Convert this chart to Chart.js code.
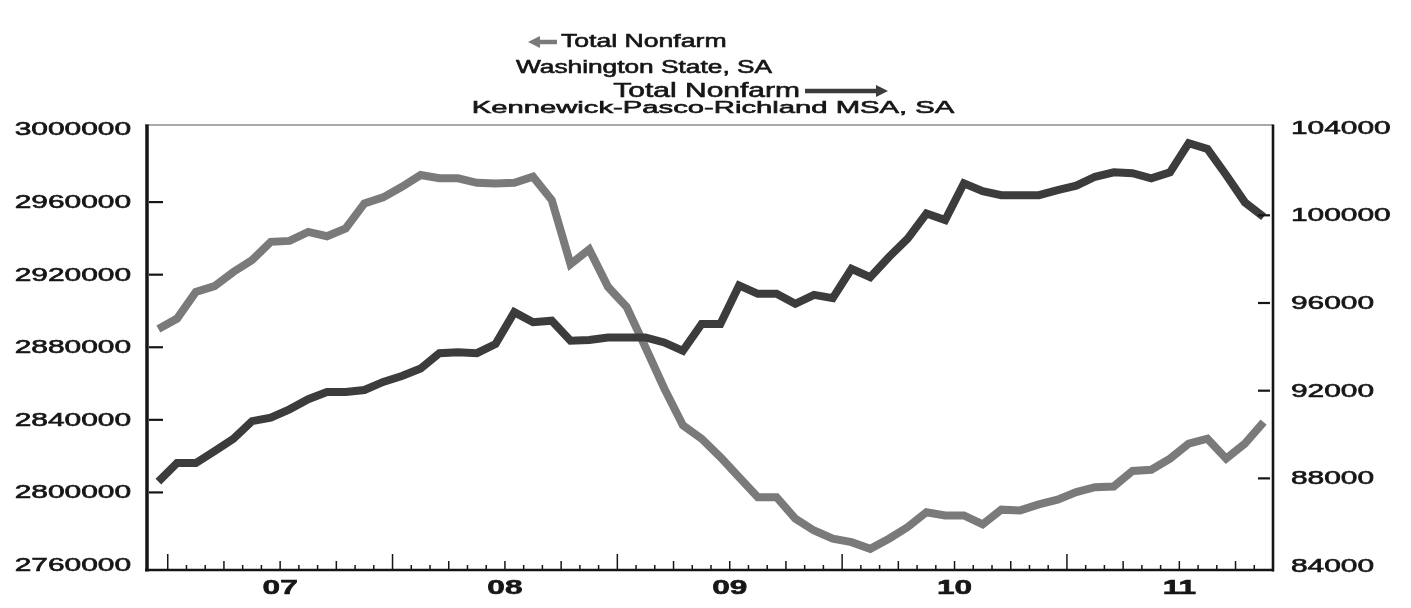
<!DOCTYPE html>
<html lang="en">
<head>
  <meta charset="UTF-8">
  <title>Total Nonfarm: Washington State vs Kennewick-Pasco-Richland MSA</title>
  <script src="https://cdn.jsdelivr.net/npm/chart.js"></script>
  <style>
    html, body {
      margin: 0;
      padding: 0;
      background: #fff;
    }
    #wrap {
      width: 1411px;
      height: 608px;
    }
  </style>
</head>
<body>
  <div id="wrap">
    <canvas id="nonfarmChart" width="1411" height="608"></canvas>
  </div>

  <script>
    // monthly, seasonally adjusted, Dec 2006 - Nov 2011
    const months = [
      "Dec 06",
      "Jan 07", "Feb 07", "Mar 07", "Apr 07", "May 07", "Jun 07", "Jul 07", "Aug 07", "Sep 07", "Oct 07", "Nov 07", "Dec 07",
      "Jan 08", "Feb 08", "Mar 08", "Apr 08", "May 08", "Jun 08", "Jul 08", "Aug 08", "Sep 08", "Oct 08", "Nov 08", "Dec 08",
      "Jan 09", "Feb 09", "Mar 09", "Apr 09", "May 09", "Jun 09", "Jul 09", "Aug 09", "Sep 09", "Oct 09", "Nov 09", "Dec 09",
      "Jan 10", "Feb 10", "Mar 10", "Apr 10", "May 10", "Jun 10", "Jul 10", "Aug 10", "Sep 10", "Oct 10", "Nov 10", "Dec 10",
      "Jan 11", "Feb 11", "Mar 11", "Apr 11", "May 11", "Jun 11", "Jul 11", "Aug 11", "Sep 11", "Oct 11", "Nov 11"
    ];

    // Washington State, left axis
    const waNonfarm = [
      2890000,
      2895800, 2910500, 2913700, 2921500, 2928000, 2938100, 2938600, 2943600, 2941200, 2945500, 2959300, 2962600,
      2968400, 2974900, 2973100, 2973100, 2970600, 2970300, 2970600, 2974000, 2961100, 2925800, 2933900, 2913300,
      2902200, 2880000, 2857400, 2837000, 2829600, 2819500, 2808400, 2797400, 2797400, 2785500, 2779000, 2774500,
      2772600, 2768900, 2774500, 2780900, 2789100, 2787300, 2787300, 2782400, 2790500, 2790100, 2793400, 2796000,
      2800200, 2802900, 2803300, 2811800, 2812500, 2818600, 2826900, 2829600, 2818600, 2826900, 2838800
    ];

    // Kennewick-Pasco-Richland MSA, right axis
    const kprNonfarm = [
      87850,
      88700, 88700, 89240, 89800, 90610, 90770, 91150, 91610, 91940, 91940, 92030, 92400,
      92670, 93010, 93710, 93750, 93710, 94130, 95580, 95120, 95190, 94280, 94310, 94430,
      94430, 94430, 94200, 93820, 95040, 95040, 96800, 96420, 96420, 95960, 96370, 96220,
      97560, 97180, 98100, 98940, 100080, 99780, 101460, 101100, 100920, 100920, 100920, 101150,
      101350, 101760, 101960, 101920, 101690, 101960, 103290, 103030, 101840, 100590, 99930
    ];

    const leftTicks = [2760000, 2800000, 2840000, 2880000, 2920000, 2960000, 3000000];
    const rightTicks = [84000, 88000, 92000, 96000, 100000, 104000];
    const yearLabels = ["07", "08", "09", "10", "11"];

    const WA_COLOR = "#7a7a7a";
    const KPR_COLOR = "#3c3c3c";
    const INK = "#161616";
    const FONT = "'Liberation Sans', Arial, Helvetica, sans-serif";
    // the source scan is squashed vertically, so all lettering comes out wide
    const SX = 1.66;

    function wideText(ctx, text, x, y, align, font, sx) {
      ctx.save();
      ctx.font = font;
      ctx.fillStyle = INK;
      ctx.strokeStyle = INK;
      ctx.lineWidth = 0.6;
      ctx.textAlign = align;
      ctx.textBaseline = "middle";
      ctx.translate(x, y);
      ctx.scale(sx, 1);
      ctx.fillText(text, 0, 0);
      ctx.strokeText(text, 0, 0);
      ctx.restore();
    }

    function arrow(ctx, x1, x2, y, color) {
      const dir = Math.sign(x2 - x1);
      ctx.save();
      ctx.strokeStyle = color;
      ctx.fillStyle = color;
      ctx.lineWidth = 4.5;
      ctx.beginPath();
      ctx.moveTo(x1, y);
      ctx.lineTo(x2 - dir * 8, y);
      ctx.stroke();
      ctx.beginPath();
      ctx.moveTo(x2, y);
      ctx.lineTo(x2 - dir * 12, y - 6);
      ctx.lineTo(x2 - dir * 12, y + 6);
      ctx.closePath();
      ctx.fill();
      ctx.restore();
    }

    function seg(ctx, x1, y1, x2, y2) {
      ctx.beginPath();
      ctx.moveTo(x1, y1);
      ctx.lineTo(x2, y2);
      ctx.stroke();
    }

    const framePlugin = {
      id: "frame",
      afterDatasetsDraw(chart) {
        const ctx = chart.ctx;
        const a = chart.chartArea;
        const x = chart.scales.x;
        const yl = chart.scales.yLeft;
        const yr = chart.scales.yRight;
        const step = x.getPixelForValue(1) - x.getPixelForValue(0);

        ctx.save();
        ctx.lineCap = "butt";

        // box
        ctx.strokeStyle = "#555";
        ctx.lineWidth = 1.2;
        seg(ctx, a.left - 4, a.top, a.right, a.top);
        ctx.strokeStyle = INK;
        ctx.lineWidth = 3.5;
        seg(ctx, a.left - 2, a.top - 0.5, a.left - 2, a.bottom + 1.5);
        ctx.lineWidth = 2.6;
        seg(ctx, a.right, a.top - 0.5, a.right, a.bottom + 1.5);
        seg(ctx, a.left - 4, a.bottom, a.right + 1, a.bottom);

        // month / quarter / year ticks, standing up from the bottom
        ctx.lineWidth = 1.5;
        for (let j = 1; j < months.length; j++) {
          const bx = x.getPixelForValue(j) - step / 2;
          const m = months[j].slice(0, 3);
          let len = 5;
          if (m === "Jan") len = 16;
          else if (m === "Apr" || m === "Jul" || m === "Oct") len = 9;
          seg(ctx, bx, a.bottom, bx, a.bottom - len);
        }

        // value ticks
        ctx.lineWidth = 2.2;
        leftTicks.slice(1, -1).forEach(v => {
          const py = yl.getPixelForValue(v);
          seg(ctx, a.left, py, a.left + 14, py);
        });
        rightTicks.slice(1, -1).forEach(v => {
          const py = yr.getPixelForValue(v);
          seg(ctx, a.right - 15, py, a.right - 3, py);
        });
        ctx.restore();

        // axis labels
        const valFont = "18px " + FONT;
        leftTicks.forEach(v => {
          wideText(ctx, String(v), a.left - 18, yl.getPixelForValue(v) + 1, "right", valFont, SX);
        });
        rightTicks.forEach(v => {
          wideText(ctx, String(v), a.right + 18, yr.getPixelForValue(v) + 1, "left", valFont, SX);
        });
        yearLabels.forEach(yy => {
          const idx = months.indexOf("Jul " + yy);
          if (idx < 0) return;
          const bx = x.getPixelForValue(idx) - step / 2;
          wideText(ctx, yy, bx, a.bottom + 18, "center", "bold 20px " + FONT, 1.58);
        });

        // series titles with their direction arrows
        arrow(ctx, 557, 528, 42, WA_COLOR);
        wideText(ctx, "Total Nonfarm", 561, 42, "left", "19px " + FONT, 1.4);
        wideText(ctx, "Washington State, SA", 644, 68, "center", "18px " + FONT, 1.46);
        wideText(ctx, "Total Nonfarm", 800, 91, "right", "20px " + FONT, 1.5);
        arrow(ctx, 805, 888, 91, KPR_COLOR);
        wideText(ctx, "Kennewick-Pasco-Richland MSA, SA", 713, 108, "center", "17px " + FONT, 1.72);
      }
    };

    const ctx = document.getElementById("nonfarmChart").getContext("2d");
    const nonfarmChart = new Chart(ctx, {
      type: "line",
      data: {
        labels: months,
        datasets: [
          {
            label: "Total Nonfarm, Washington State, SA",
            data: waNonfarm,
            yAxisID: "yLeft",
            borderColor: WA_COLOR,
            borderWidth: 8,
            pointRadius: 0,
            tension: 0,
            order: 2
          },
          {
            label: "Total Nonfarm, Kennewick-Pasco-Richland MSA, SA",
            data: kprNonfarm,
            yAxisID: "yRight",
            borderColor: KPR_COLOR,
            borderWidth: 8,
            pointRadius: 0,
            tension: 0,
            order: 1
          }
        ]
      },
      options: {
        responsive: false,
        animation: false,
        layout: {
          padding: { left: 149, right: 138, top: 125, bottom: 38 }
        },
        plugins: {
          legend: { display: false },
          title: { display: false },
          tooltip: { enabled: false }
        },
        scales: {
          x: {
            type: "category",
            display: false,
            offset: true
          },
          yLeft: {
            position: "left",
            display: false,
            min: 2757250,
            max: 3002480
          },
          yRight: {
            position: "right",
            display: false,
            min: 83820,
            max: 104120
          }
        }
      },
      plugins: [framePlugin]
    });
  </script>
</body>
</html>
